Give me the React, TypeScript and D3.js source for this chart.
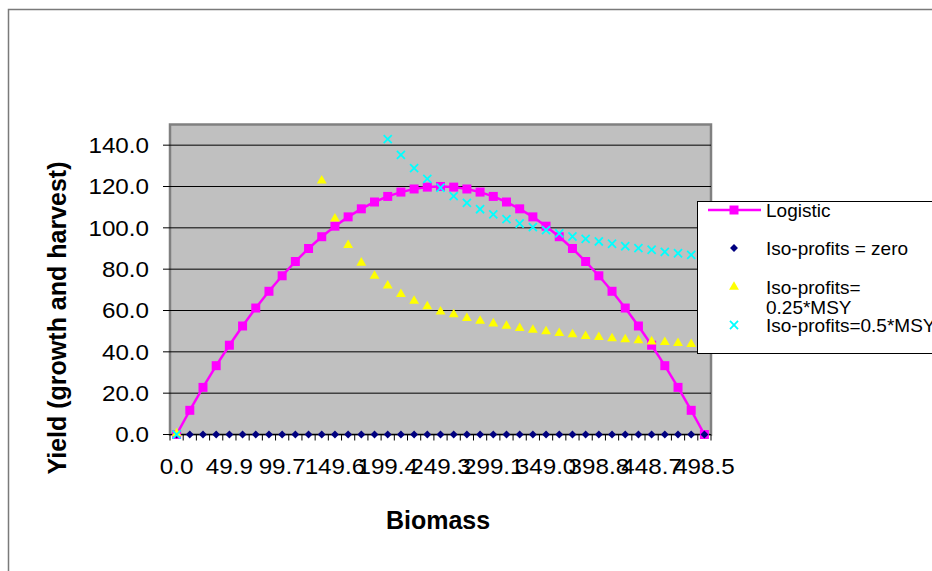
import React from "react";
import * as d3 from "d3";

// biomass categories (41 steps of ~12.46)
const biomass = [
  0.0, 12.5, 24.9, 37.4, 49.9, 62.3, 74.8, 87.2, 99.7, 112.2, 124.6, 137.1, 149.6,
  162.0, 174.5, 186.9, 199.4, 211.9, 224.3, 236.8, 249.3, 261.7, 274.2, 286.6, 299.1,
  311.6, 324.0, 336.5, 349.0, 361.4, 373.9, 386.3, 398.8, 411.3, 423.7, 436.2, 448.7,
  461.1, 473.6, 486.0, 498.5,
];
const xTickLabels = ["0.0", "49.9", "99.7", "149.6", "199.4", "249.3", "299.1", "349.0", "398.8", "448.7", "498.5"];
const yTicks = [0, 20, 40, 60, 80, 100, 120, 140];

const logistic = [
  0, 11.7, 22.8, 33.3, 43.2, 52.5, 61.2, 69.3, 76.8, 83.7, 90.0, 95.7, 100.8, 105.3, 109.2,
  112.5, 115.2, 117.3, 118.8, 119.7, 120.0, 119.7, 118.8, 117.3, 115.2, 112.5, 109.2, 105.3,
  100.8, 95.7, 90.0, 83.7, 76.8, 69.3, 61.2, 52.5, 43.2, 33.3, 22.8, 11.7, 0,
];
const isoZero = [
  0, 0, 0, 0, 0, 0, 0, 0, 0, 0, 0, 0, 0, 0, 0, 0, 0, 0, 0, 0, 0,
  0, 0, 0, 0, 0, 0, 0, 0, 0, 0, 0, 0, 0, 0, 0, 0, 0, 0, 0, 0,
];
// null = off the top of the chart
const iso025 = [
  0, null, null, null, null, null, null, null, null, null, null, 122.3, 103.9, 91.1, 82.6,
  76.3, 71.5, 67.4, 64.2, 61.5, 59.0, 57.6, 55.8, 54.5, 53.2, 52.1, 51.0, 50.1, 49.4, 48.5,
  47.9, 47.1, 46.6, 46.0, 45.5, 45.0, 44.5, 44.2, 43.7, 43.2, 42.8,
];
const iso05 = [
  0, null, null, null, null, null, null, null, null, null, null, null, null, null, null,
  null, 142.9, 135.3, 128.9, 123.7, 119.4, 115.3, 112.1, 109.0, 106.5, 104.2, 102.1, 100.3,
  98.9, 97.3, 95.8, 94.7, 93.4, 92.3, 91.1, 90.2, 89.4, 88.4, 87.7, 86.9, 86.2,
];

const font = "Arial, 'Liberation Sans', sans-serif";

export default function App() {
  const left = 170, right = 711, top = 124.5, bottom = 434.5;
  const x = d3.scaleBand<number>().domain(biomass.map((_, i) => i)).range([left, right]).padding(0);
  const y = d3.scaleLinear().domain([0, 150]).range([bottom, top]);
  const cx = (i: number) => (x(i) as number) + x.bandwidth() / 2;

  const line = d3.line<number>().x((_, i) => cx(i)).y((d) => y(d));
  const square = d3.symbol().type(d3.symbolSquare).size(81)()!;
  const diamond = d3.symbol().type(d3.symbolDiamond2).size(40)()!;
  const tri = d3.symbol().type(d3.symbolTriangle).size(42)()!;
  const cross = d3.symbol().type(d3.symbolX).size(44)()!;

  const boundaries = d3.range(biomass.length + 1).map((i) => left + i * x.bandwidth());

  return (
    <svg width={932} height={571} style={{ position: "absolute", left: 0, top: 0, display: "block" }} fontFamily={font}>
      <rect x={0} y={0} width={932} height={571} fill="#fff" />
      <rect x={8.5} y={9.5} width={1000} height={700} fill="none" stroke="#7a7a7a" strokeWidth={1.5} />

      {/* plot area */}
      <rect x={left} y={top} width={right - left} height={bottom - top} fill="#c0c0c0" stroke="#808080" strokeWidth={2.5} />
      {yTicks.filter((t) => t > 0).map((t) => (
        <line key={t} x1={left} x2={right} y1={y(t)} y2={y(t)} stroke="#000" strokeWidth={1} />
      ))}
      <line x1={left} x2={right} y1={bottom} y2={bottom} stroke="#000" strokeWidth={1} />
      {yTicks.map((t) => (
        <g key={t}>
          <line x1={left - 7} x2={left} y1={y(t)} y2={y(t)} stroke="#000" />
          <text transform={`translate(149,${y(t)}) scale(1.1,1)`} dy="0.35em" textAnchor="end" fontSize={22}>{t.toFixed(1)}</text>
        </g>
      ))}
      {boundaries.map((b, i) => (
        <line key={i} x1={b} x2={b} y1={bottom} y2={bottom + 6} stroke="#000" />
      ))}
      {xTickLabels.map((l, k) => (
        <text key={l} transform={`translate(${cx(k * 4)},474) scale(1.1,1)`} textAnchor="middle" fontSize={22}>{l}</text>
      ))}

      {/* series */}
      <path d={line(logistic) ?? ""} fill="none" stroke="#ff00ff" strokeWidth={2.5} />
      {logistic.map((v, i) => (
        <path key={i} d={square} transform={`translate(${cx(i)},${y(v)})`} fill="#ff00ff" />
      ))}
      {isoZero.map((v, i) => (
        <path key={i} d={diamond} transform={`translate(${cx(i)},${y(v)})`} fill="#000080" />
      ))}
      {iso025.map((v, i) => v == null ? null : (
        <path key={i} d={tri} transform={`translate(${cx(i)},${y(v) - 1})`} fill="#ffff00" />
      ))}
      {iso05.map((v, i) => v == null ? null : (
        <path key={i} d={cross} transform={`translate(${cx(i)},${y(v)})`} fill="none" stroke="#00ffff" strokeWidth={1.8} />
      ))}

      {/* axis titles */}
      <text x={438} y={529} textAnchor="middle" fontSize={25} fontWeight="bold">Biomass</text>
      <text transform="translate(66,318) rotate(-90)" textAnchor="middle" fontSize={25} fontWeight="bold">Yield (growth and harvest)</text>

      {/* legend */}
      <rect x={697.5} y={201.5} width={300} height={152} fill="#fff" stroke="#000" strokeWidth={1} />
      <line x1={708} x2={761} y1={210} y2={210} stroke="#ff00ff" strokeWidth={2.5} />
      <path d={square} transform="translate(734,210)" fill="#ff00ff" />
      <path d={diamond} transform="translate(734,248)" fill="#000080" />
      <path d={tri} transform="translate(734,287)" fill="#ffff00" />
      <path d={cross} transform="translate(734,325)" fill="none" stroke="#00ffff" strokeWidth={1.8} />
      <g fontSize={19}>
        <text x={766} y={210} dy="0.35em">Logistic</text>
        <text x={766} y={248} dy="0.35em">Iso-profits = zero</text>
        <text x={766} y={287} dy="0.35em">Iso-profits=</text>
        <text x={766} y={307} dy="0.35em">0.25*MSY</text>
        <text x={766} y={325} dy="0.35em">Iso-profits=0.5*MSY</text>
      </g>
    </svg>
  );
}
